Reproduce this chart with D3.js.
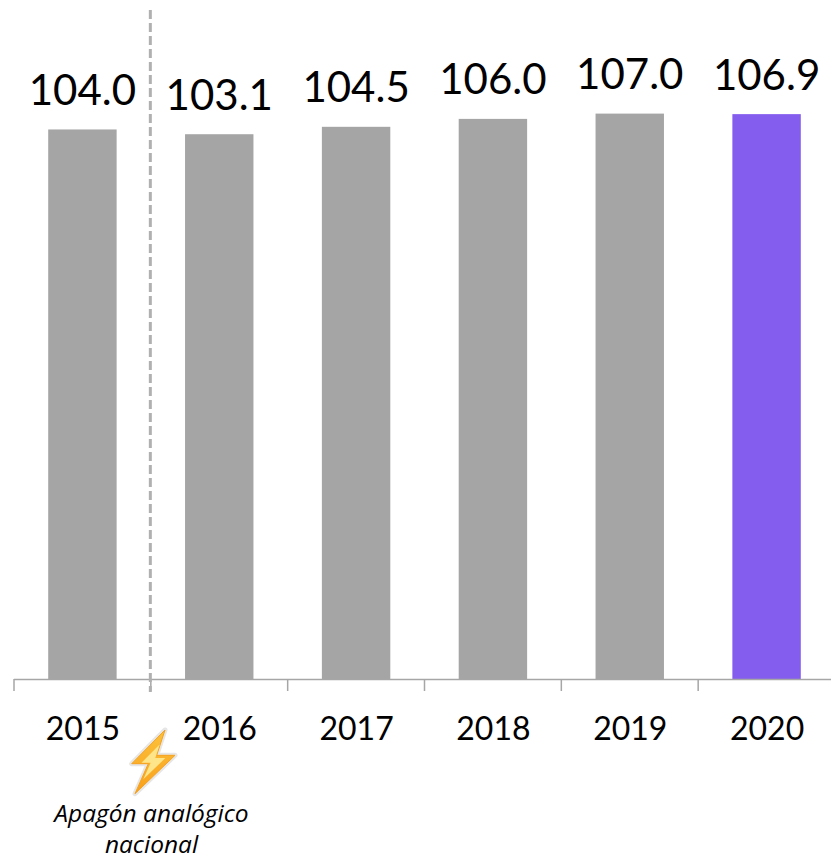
<!DOCTYPE html>
<html>
  <head>
    <meta charset="utf-8">
    <title>Apagón analógico</title>
    <script src="https://d3js.org/d3.v7.min.js"></script>
    <style>
      body { margin: 0; background: #fff; }
      text { font-family: Lato, "Open Sans", sans-serif; fill: #000; }
      .note { font-family: "Open Sans", sans-serif; }
    </style>
  </head>
  <body>
    <svg width="831" height="859"></svg>
    <script>
      // values
      var years = ["2015", "2016", "2017", "2018", "2019", "2020"];
      var values = [104.0, 103.1, 104.5, 106.0, 107.0, 106.9];
      var noteLines = ["Apagón analógico", "nacional"];

      var svg = d3.select("svg");
      var baseline = 679;

      // scales
      var x = d3.scaleBand()
        .domain(years)
        .range([14, 835])
        .paddingInner(0.5)
        .paddingOuter(0.25);

      var y = d3.scaleLinear()
        .domain([0, 128.5])
        .range([baseline, 0]);

      // band edges, used for ticks and the dashed line
      var step = x.step();
      function edge(i) { return 14 + i * step; }

      // bars
      svg.selectAll(".bar")
        .data(years)
        .enter().append("rect")
        .attr("class", "bar")
        .attr("x", function (d) { return x(d); })
        .attr("y", function (d, i) { return y(values[i]); })
        .attr("width", x.bandwidth())
        .attr("height", function (d, i) { return baseline - y(values[i]); })
        .attr("fill", function (d) { return d === "2020" ? "#845cee" : "#a5a5a5"; });

      // x axis line and ticks
      svg.append("line")
        .attr("x1", 14).attr("x2", 831)
        .attr("y1", baseline + 0.5).attr("y2", baseline + 0.5)
        .attr("stroke", "#a6a6a6").attr("stroke-width", 1.5);

      svg.selectAll(".tick")
        .data(d3.range(0, 6))
        .enter().append("line")
        .attr("class", "tick")
        .attr("x1", edge).attr("x2", edge)
        .attr("y1", baseline).attr("y2", baseline + 12)
        .attr("stroke", "#a6a6a6").attr("stroke-width", 1.5);

      // year labels
      svg.selectAll(".year")
        .data(years)
        .enter().append("text")
        .attr("class", "year")
        .attr("x", function (d) { return x(d) + x.bandwidth() / 2 + 0.5; })
        .attr("y", 740)
        .attr("text-anchor", "middle")
        .style("font-size", "32px")
        .text(function (d) { return d; });

      // value labels
      svg.selectAll(".value")
        .data(years)
        .enter().append("text")
        .attr("class", "value")
        .attr("x", function (d) { return x(d) + x.bandwidth() / 2; })
        .attr("y", function (d, i) { return y(values[i]) - 24.5; })
        .attr("text-anchor", "middle")
        .style("font-size", "42px")
        .text(function (d, i) { return values[i].toFixed(1); });

      // dashed separator between 2015 and 2016
      svg.append("line")
        .attr("x1", edge(1) - 0.5).attr("x2", edge(1) - 0.5)
        .attr("y1", 10).attr("y2", 692)
        .attr("stroke", "#b0b0b0").attr("stroke-width", 3)
        .attr("stroke-dasharray", "9 4");

      // lightning bolt
      var boltPath = "M165,730 L131.7,763.7 L148.3,763.7 L135,793.7 L175,755.3 L156.7,755.3 Z";

      var defs = svg.append("defs");
      var grad = defs.append("linearGradient")
        .attr("id", "bolt").attr("x1", 0).attr("y1", 0).attr("x2", 0).attr("y2", 1);
      grad.append("stop").attr("offset", "0").attr("stop-color", "#fcc23c");
      grad.append("stop").attr("offset", "1").attr("stop-color", "#f9a01b");

      // halo, body, then pale centre
      svg.append("path")
        .attr("d", boltPath)
        .attr("fill", "#fff")
        .attr("stroke", "#e6e6e6")
        .attr("stroke-width", 5)
        .attr("stroke-linejoin", "round");

      svg.append("path")
        .attr("d", boltPath)
        .attr("fill", "url(#bolt)")
        .attr("stroke", "#f7a11c")
        .attr("stroke-width", 1)
        .attr("stroke-linejoin", "round");

      svg.append("path")
        .attr("d", boltPath)
        .attr("fill", "#ffe58a")
        .attr("transform", "translate(153.5,761.5) scale(0.55) translate(-153.5,-761.5)");

      // annotation
      svg.selectAll(".note")
        .data(noteLines)
        .enter().append("text")
        .attr("class", "note")
        .attr("x", 151.5)
        .attr("y", function (d, i) { return 822 + i * 31; })
        .attr("text-anchor", "middle")
        .style("font-size", "24.5px")
        .style("font-style", "italic")
        .text(function (d) { return d; });
    </script>
  </body>
</html>
